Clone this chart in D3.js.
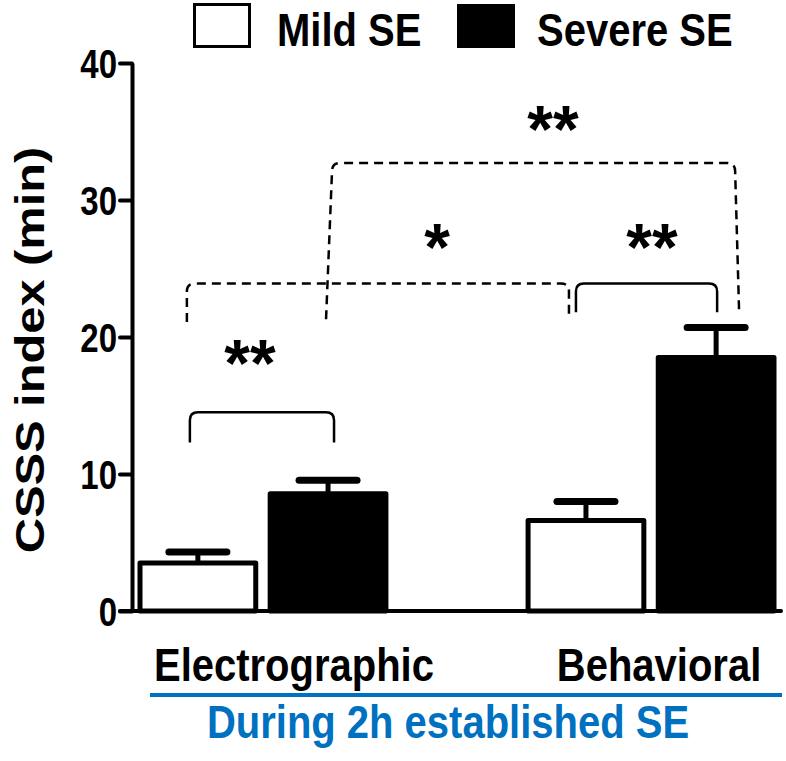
<!DOCTYPE html>
<html><head><meta charset="utf-8">
<script src="https://cdnjs.cloudflare.com/ajax/libs/d3/7.8.5/d3.min.js"></script>
<style>body{margin:0;background:#fff}svg{display:block}text{font-family:"Liberation Sans",Arial,sans-serif;font-weight:bold}</style>
</head><body>
<script>
// ---- data ----
const categories = ["Electrographic", "Behavioral"];
const seriesNames = ["Mild SE", "Severe SE"];
const mildValues = [3.5, 6.6];
const mildErrors = [0.8, 1.4];
const severeValues = [8.55, 18.5];
const severeErrors = [1.0, 2.2];
const yTicks = [0, 10, 20, 30, 40];
const yLabel = "CSSS index (min)";
const groupLabel = "During 2h established SE";
// significance comparisons: [category, series] pairs, bracket height, leg ends, text, style
const comparisons = [
  {a:[0,0], b:[0,1], y:14.5, legA:12.3, legB:12.3, text:"**", dashed:false},
  {a:[1,0], b:[1,1], y:23.9, legA:21.8, legB:21.8, text:"**", dashed:false},
  {a:[0,0], b:[1,0], y:23.9, legA:21.1, legB:21.3, text:"*", dashed:true},
  {a:[0,1], b:[1,1], y:32.7, legA:21.3, legB:21.8, text:"**", dashed:true}
];

const W = 786, H = 761;
const svg = d3.select("body").append("svg").attr("width", W).attr("height", H);
const SY = 1.15;

const y = d3.scaleLinear().domain([0, 40]).range([611, 63]);
const x0 = d3.scaleBand().domain(categories).range([138, 776]).paddingInner(0.356).paddingOuter(0);
const x1 = d3.scaleBand().domain(seriesNames).range([0, x0.bandwidth()]).paddingInner(0.08);

const rows = categories.map((c, i) => ({
  cat: c,
  vals: [
    {s: seriesNames[0], v: mildValues[i], e: mildErrors[i]},
    {s: seriesNames[1], v: severeValues[i], e: severeErrors[i]}
  ]
}));
const cx = (ci, si) => x0(categories[ci]) + x1(seriesNames[si]) + x1.bandwidth() / 2;

function stext(g, x, yy, str, size, anchor, fill) {
  return g.append("text").attr("transform", `translate(${x},${yy}) scale(1,${SY})`)
    .attr("text-anchor", anchor || "start").attr("font-size", size).attr("fill", fill || "#000").text(str);
}

// y axis
const yAxis = svg.append("g").attr("transform", "translate(132,0)")
  .call(d3.axisLeft(y).tickValues(yTicks).tickSize(12).tickSizeOuter(0).tickPadding(4));
yAxis.select(".domain").attr("stroke", "#000").attr("stroke-width", 4);
yAxis.selectAll(".tick line").attr("stroke", "#000").attr("stroke-width", 4).attr("stroke-linecap", "round");
yAxis.selectAll(".tick text").attr("font-size", 33).attr("fill", "#000")
  .attr("font-family", '"Liberation Sans",Arial,sans-serif').attr("font-weight", "bold")
  .attr("transform", "scale(1,1.25)").attr("dy", "0.36em").attr("x", -15);

// bars
const groups = svg.selectAll("g.grp").data(rows).enter().append("g")
  .attr("transform", d => `translate(${x0(d.cat)},0)`);
groups.selectAll("rect").data(d => d.vals).enter().append("rect")
  .attr("x", d => x1(d.s) + 2).attr("width", x1.bandwidth() - 4)
  .attr("y", d => y(d.v)).attr("height", d => y(0) - y(d.v))
  .attr("fill", (d, i) => i === 0 ? "#fff" : "#000")
  .attr("stroke", "#000").attr("stroke-width", 5).attr("stroke-linejoin", "round");
// error bars
groups.selectAll("line.stem").data(d => d.vals).enter().append("line")
  .attr("x1", d => x1(d.s) + x1.bandwidth() / 2).attr("x2", d => x1(d.s) + x1.bandwidth() / 2)
  .attr("y1", d => y(d.v)).attr("y2", d => y(d.v + d.e))
  .attr("stroke", "#000").attr("stroke-width", 5);
groups.selectAll("line.cap").data(d => d.vals).enter().append("line")
  .attr("x1", d => x1(d.s) + x1.bandwidth() / 2 - 29).attr("x2", d => x1(d.s) + x1.bandwidth() / 2 + 29)
  .attr("y1", d => y(d.v + d.e)).attr("y2", d => y(d.v + d.e))
  .attr("stroke", "#000").attr("stroke-width", 7).attr("stroke-linecap", "round");

// x baseline
svg.append("line").attr("x1", 120).attr("x2", 781).attr("y1", y(0)).attr("y2", y(0))
  .attr("stroke", "#000").attr("stroke-width", 4).attr("stroke-linecap", "round");

// category labels
const labelDx = [31, 8];
categories.forEach((c, i) => {
  stext(svg, x0(c) + x0.bandwidth() / 2 + labelDx[i], 681, c, 40, "middle");
});

// blue group line + label
svg.append("line").attr("x1", 150).attr("x2", 782).attr("y1", 695).attr("y2", 695)
  .attr("stroke", "#0070C0").attr("stroke-width", 4);
stext(svg, 448, 738, groupLabel, 40, "middle", "#0070C0");

// y label
svg.append("text").attr("transform", `translate(44,350) rotate(-90) scale(1.22,1.03)`)
  .attr("text-anchor", "middle").attr("font-size", 40).text(yLabel);

// legend
svg.append("rect").attr("x", 194.5).attr("y", 4.5).attr("width", 55).attr("height", 42)
  .attr("fill", "#fff").attr("stroke", "#000").attr("stroke-width", 3);
stext(svg, 277, 46, seriesNames[0], 40, "start");
svg.append("rect").attr("x", 457).attr("y", 4).attr("width", 58).attr("height", 44).attr("fill", "#000");
stext(svg, 537, 46, seriesNames[1], 40, "start");

// significance brackets
const bx = [[-8, 6], [-10, 1], [-11, -17], [4, 19]];
comparisons.forEach((c, i) => {
  const xa = cx(c.a[0], c.a[1]) + bx[i][0];
  const xb = cx(c.b[0], c.b[1]) + bx[i][1];
  const yy = y(c.y), r = 8;
  const lean = i === 3 ? 6 : 0;
  const p = d3.path();
  p.moveTo(xa - lean, y(c.legA));
  p.lineTo(xa, yy + r);
  p.quadraticCurveTo(xa, yy, xa + r, yy);
  p.lineTo(xb - r, yy);
  p.quadraticCurveTo(xb, yy, xb, yy + r);
  p.lineTo(xb + (i === 3 ? 4 : 0), y(c.legB));
  svg.append("path").attr("d", p.toString()).attr("fill", "none")
    .attr("stroke", "#000").attr("stroke-width", 2.5)
    .attr("stroke-dasharray", c.dashed ? "9,6" : null);
});
// stars
const starPos = [[250, 386], [652, 270], [437, 270], [553, 152]];
comparisons.forEach((c, i) => {
  svg.append("text").attr("x", starPos[i][0]).attr("y", starPos[i][1])
    .attr("text-anchor", "middle").attr("font-size", 66).text(c.text);
});
</script>
</body></html>
